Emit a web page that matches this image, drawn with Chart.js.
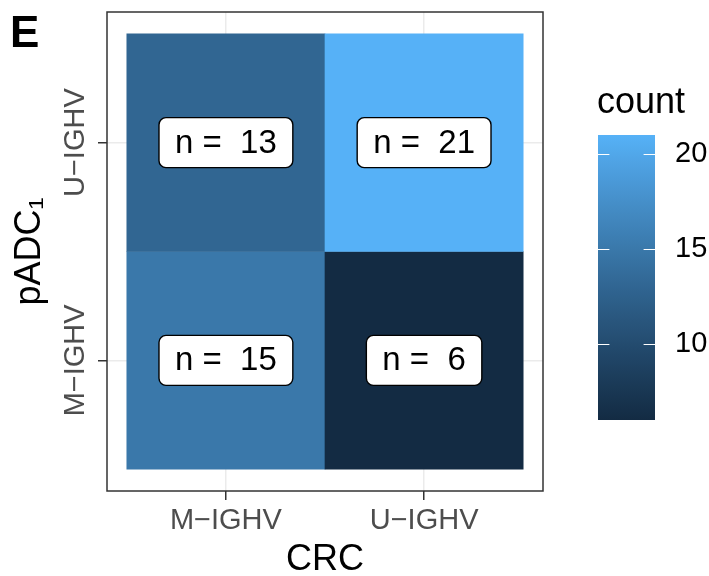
<!DOCTYPE html>
<html>
<head>
<meta charset="utf-8">
<script src="https://cdn.jsdelivr.net/npm/chart.js@4/dist/chart.umd.min.js"></script>
<style>
	body { margin: 0; background: #ffffff; }
	#wrap { position: relative; width: 709px; height: 576px; }
	#graficoHeat { position: absolute; left: 0; top: 0; }
	#graficoBarra { position: absolute; left: 560px; top: 0; }
</style>
</head>
<body>
<div id="wrap">
	<canvas id="graficoHeat" width="709" height="576"></canvas>
	<canvas id="graficoBarra" width="149" height="576"></canvas>
</div>
<script>
// dados do grafico
var crcGroups = ["M\u2212IGHV", "U\u2212IGHV"]; // eixo x (CRC)
var padcGroups = ["M\u2212IGHV", "U\u2212IGHV"]; // eixo y (pADC1), de baixo pra cima
// linhas = pADC1 (M, U), colunas = CRC (M, U)
var countsM = [15, 6];
var countsU = [13, 21];
var legendTicks = [10, 15, 20];

var counts = [countsM, countsU];
var todos = countsM.concat(countsU);
var minCount = Math.min.apply(null, todos);
var maxCount = Math.max.apply(null, todos);

var fonte = "'Liberation Sans', Arimo, Helvetica, Arial, sans-serif";
var corBaixa = "#132B43";
var corAlta = "#56B1F7";

// conversao sRGB <-> Lab (mesma ideia do scales::seq_gradient_pal)
function hexParaRgb(h) {
	return [parseInt(h.slice(1, 3), 16), parseInt(h.slice(3, 5), 16), parseInt(h.slice(5, 7), 16)];
}
function rgbParaLab(rgb) {
	var lin = rgb.map(function (c) {
		c = c / 255;
		return c <= 0.04045 ? c / 12.92 : Math.pow((c + 0.055) / 1.055, 2.4);
	});
	var X = (0.4124564 * lin[0] + 0.3575761 * lin[1] + 0.1804375 * lin[2]) / 0.95047;
	var Y = 0.2126729 * lin[0] + 0.7151522 * lin[1] + 0.072175 * lin[2];
	var Z = (0.0193339 * lin[0] + 0.119192 * lin[1] + 0.9503041 * lin[2]) / 1.08883;
	var f = function (t) { return t > 0.008856 ? Math.cbrt(t) : 7.787 * t + 16 / 116; };
	var fx = f(X), fy = f(Y), fz = f(Z);
	return [116 * fy - 16, 500 * (fx - fy), 200 * (fy - fz)];
}
function labParaHex(lab) {
	var fy = (lab[0] + 16) / 116;
	var fx = lab[1] / 500 + fy;
	var fz = fy - lab[2] / 200;
	var inv = function (t) { return t * t * t > 0.008856 ? t * t * t : (t - 16 / 116) / 7.787; };
	var X = inv(fx) * 0.95047, Y = inv(fy), Z = inv(fz) * 1.08883;
	var r = 3.2404542 * X - 1.5371385 * Y - 0.4985314 * Z;
	var g = -0.969266 * X + 1.8760108 * Y + 0.041556 * Z;
	var b = 0.0556434 * X - 0.2040259 * Y + 1.0572252 * Z;
	return "#" + [r, g, b].map(function (c) {
		c = c <= 0.0031308 ? 12.92 * c : 1.055 * Math.pow(c, 1 / 2.4) - 0.055;
		c = Math.round(Math.min(1, Math.max(0, c)) * 255);
		return (c < 16 ? "0" : "") + c.toString(16);
	}).join("");
}
var labBaixa = rgbParaLab(hexParaRgb(corBaixa));
var labAlta = rgbParaLab(hexParaRgb(corAlta));
function corPara(v) {
	var t = (v - minCount) / (maxCount - minCount);
	return labParaHex([0, 1, 2].map(function (i) { return labBaixa[i] + (labAlta[i] - labBaixa[i]) * t; }));
}

// monta os tiles
var tiles = [];
for (var r = 0; r < padcGroups.length; r++) {
	for (var c = 0; c < crcGroups.length; c++) {
		tiles.push({ x: c + 1, y: [r + 0.5, r + 1.5], count: counts[r][c] });
	}
}

// desenha borda do painel, rotulos "n = " e textos extras
var pluginPainel = {
	id: "painel",
	afterDatasetsDraw: function (chart) {
		var ctx = chart.ctx;
		var area = chart.chartArea;
		var sx = chart.scales.x;
		var sy = chart.scales.y;

		// rotulos das caixas (nbsp pra manter o espaco duplo)
		ctx.save();
		ctx.font = "33px " + fonte;
		ctx.textAlign = "center";
		ctx.textBaseline = "middle";
		tiles.forEach(function (t) {
			var cx = sx.getPixelForValue(t.x);
			var cy = sy.getPixelForValue((t.y[0] + t.y[1]) / 2);
			var texto = "n =\u00A0\u00A0" + t.count;
			var w = ctx.measureText(texto).width + 32;
			var h = 50;
			ctx.beginPath();
			ctx.roundRect(cx - w / 2, cy - h / 2, w, h, 7);
			ctx.fillStyle = "#ffffff";
			ctx.fill();
			ctx.lineWidth = 1.4;
			ctx.strokeStyle = "#000000";
			ctx.stroke();
			ctx.fillStyle = "#000000";
			ctx.fillText(texto, cx, cy + 1);
		});
		ctx.restore();

		// borda do painel
		ctx.save();
		ctx.strokeStyle = "#333333";
		ctx.lineWidth = 1.5;
		ctx.strokeRect(area.left, area.top, area.right - area.left, area.bottom - area.top);
		ctx.restore();
	},
	afterDraw: function (chart) {
		var ctx = chart.ctx;
		var area = chart.chartArea;
		var sy = chart.scales.y;

		// rotulos do eixo y (girados)
		ctx.save();
		ctx.font = "29px " + fonte;
		ctx.fillStyle = "#4D4D4D";
		ctx.textAlign = "center";
		ctx.textBaseline = "middle";
		padcGroups.forEach(function (nome, i) {
			ctx.save();
			ctx.translate(area.left - 31, sy.getPixelForValue(i + 1));
			ctx.rotate(-Math.PI / 2);
			ctx.fillText(nome, 0, 0);
			ctx.restore();
		});
		ctx.restore();

		// letra do painel
		ctx.save();
		ctx.font = "bold 44px " + fonte;
		ctx.fillStyle = "#000000";
		ctx.textAlign = "left";
		ctx.textBaseline = "alphabetic";
		ctx.fillText("E", 10, 47);
		ctx.restore();
	},
};

var graficoHeat = new Chart(document.getElementById("graficoHeat"), {
	type: "bar",
	data: {
		datasets: [
			{
				data: tiles,
				backgroundColor: tiles.map(function (t) { return corPara(t.count); }),
				borderWidth: 0,
				barPercentage: 1,
				categoryPercentage: 1,
			},
		],
	},
	options: {
		responsive: false,
		animation: false,
		layout: { padding: { left: 0, top: 12, right: 166, bottom: 0 } },
		plugins: { legend: { display: false }, tooltip: { enabled: false } },
		scales: {
			x: {
				type: "linear",
				min: 0.4,
				max: 2.6,
				offset: false,
				afterBuildTicks: function (scale) {
					scale.ticks = crcGroups.map(function (n, i) { return { value: i + 1 }; });
				},
				afterFit: function (scale) { scale.height = 85; },
				ticks: {
					autoSkip: false,
					maxRotation: 0,
					padding: 4,
					color: "#4D4D4D",
					font: { family: fonte, size: 29 },
					callback: function (v) { return crcGroups[Math.round(v) - 1]; },
				},
				grid: { offset: false, color: "#EBEBEB", lineWidth: 1.5, tickColor: "#333333", tickLength: 9, tickWidth: 1.5 },
				border: { display: false },
				title: {
					display: true,
					text: "CRC",
					color: "#000000",
					font: { family: fonte, size: 36, lineHeight: 0.9 },
					padding: { top: 0, bottom: 0 },
				},
			},
			y: {
				type: "linear",
				min: 0.4,
				max: 2.6,
				offset: false,
				afterBuildTicks: function (scale) {
					scale.ticks = padcGroups.map(function (n, i) { return { value: i + 1 }; });
				},
				afterFit: function (scale) { scale.width = 107; },
				ticks: { display: false },
				grid: { offset: false, color: "#EBEBEB", lineWidth: 1.5, tickColor: "#333333", tickLength: 9, tickWidth: 1.5 },
				border: { display: false },
				title: {
					display: true,
					text: "pADC\u2081",
					color: "#000000",
					font: { family: fonte, size: 36, lineHeight: 1 },
					padding: { top: 12, bottom: 0 },
				},
			},
		},
	},
	plugins: [pluginPainel],
});

// barra de cores da legenda
var pluginBarra = {
	id: "barra",
	afterDatasetsDraw: function (chart) {
		var ctx = chart.ctx;
		var area = chart.chartArea;
		var sy = chart.scales.y;
		var tam = (area.right - area.left) / 5;
		ctx.save();
		ctx.strokeStyle = "#ffffff";
		ctx.lineWidth = 1.2;
		legendTicks.forEach(function (v) {
			var y = Math.round(sy.getPixelForValue(v)) + 0.5;
			ctx.beginPath();
			ctx.moveTo(area.left, y);
			ctx.lineTo(area.left + tam, y);
			ctx.moveTo(area.right - tam, y);
			ctx.lineTo(area.right, y);
			ctx.stroke();
		});
		ctx.restore();

		ctx.save();
		ctx.font = "36px " + fonte;
		ctx.fillStyle = "#000000";
		ctx.textAlign = "left";
		ctx.textBaseline = "alphabetic";
		ctx.fillText("count", area.left - 1, area.top - 22);
		ctx.restore();
	},
};

var graficoBarra = new Chart(document.getElementById("graficoBarra"), {
	type: "bar",
	data: {
		labels: ["count"],
		datasets: [
			{
				data: [[minCount, maxCount]],
				borderWidth: 0,
				barPercentage: 1,
				categoryPercentage: 1,
				backgroundColor: function (context) {
					var chart = context.chart;
					if (!chart.chartArea) return corAlta;
					var sy = chart.scales.y;
					var grad = chart.ctx.createLinearGradient(0, sy.getPixelForValue(minCount), 0, sy.getPixelForValue(maxCount));
					for (var i = 0; i <= 20; i++) {
						grad.addColorStop(i / 20, corPara(minCount + (maxCount - minCount) * i / 20));
					}
					return grad;
				},
			},
		],
	},
	options: {
		responsive: false,
		animation: false,
		layout: { padding: { left: 38, top: 135, right: 0, bottom: 156 } },
		plugins: { legend: { display: false }, tooltip: { enabled: false } },
		scales: {
			x: { display: false },
			y: {
				position: "right",
				min: minCount,
				max: maxCount,
				afterBuildTicks: function (scale) {
					scale.ticks = legendTicks.map(function (v) { return { value: v }; });
				},
				afterFit: function (scale) { scale.width = 54; },
				ticks: {
					padding: 20,
					color: "#000000",
					font: { family: fonte, size: 29 },
				},
				grid: { display: false, drawTicks: false },
				border: { display: false },
			},
		},
	},
	plugins: [pluginBarra],
});
</script>
</body>
</html>
